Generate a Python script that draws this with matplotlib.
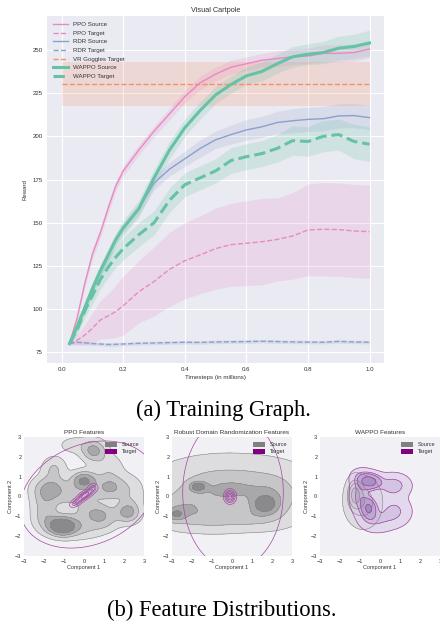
import numpy as np
import matplotlib
matplotlib.use("Agg")
import matplotlib.pyplot as plt
from matplotlib.patches import Patch

# ---------------- data: training curves ----------------
timesteps = [0.025, 0.05, 0.075, 0.1, 0.125, 0.15, 0.175, 0.2, 0.25, 0.3, 0.35, 0.4,
             0.45, 0.5, 0.55, 0.6, 0.65, 0.7, 0.75, 0.8, 0.85, 0.9, 0.95, 1.0]
ppo_source_mean = [80, 95, 115, 132, 144, 158, 171, 180, 192, 203, 213, 223,
                   231, 236, 240, 242, 244, 245, 246, 246.5, 248, 248, 248.5, 250.5]
ppo_source_std = [1, 2, 2.5, 3, 3, 3, 3, 3, 3, 3, 3.5, 3.5,
                  4, 4, 4, 4, 4, 4.5, 4.5, 4.5, 5, 5, 5, 5]
ppo_target_mean = [80, 82, 85, 89, 93.7, 96, 98.5, 102, 110, 116, 123, 128,
                   131.4, 135, 137.3, 138.1, 139, 140.3, 142.3, 145.8, 146.2, 146, 145.2, 144.8]
ppo_target_std = [0.5, 3, 6, 9, 11, 13, 15, 17, 18, 20, 21.5, 22,
                  22.5, 23.5, 24, 24.5, 25, 24, 25, 26.5, 27, 27, 27, 27]
rdr_source_mean = [80, 90, 101, 112, 122, 131, 140, 147, 158, 173, 181, 187,
                   193, 198, 201, 203.7, 205.5, 208, 209, 209.8, 210.2, 211.8, 212, 210.8]
rdr_source_std = [1, 2, 2.5, 3, 3, 3, 3, 3, 3.5, 4, 4, 4.5,
                  5, 5, 5.5, 6, 6, 6.5, 7, 7, 7, 7, 7, 7]
rdr_target_mean = [80, 80.8, 80.5, 80, 79.8, 79.5, 79.6, 79.8, 80.2, 80.4, 80.6, 80.8,
                   80.7, 81, 81.1, 81.2, 81.4, 81.2, 81, 80.9, 80.8, 81.3, 81, 80.8]
rdr_target_std = [0.8, 1, 1, 1, 1, 1.1, 1.1, 1, 1, 1, 1, 1,
                  1, 1, 1, 1, 1, 1, 1, 1, 1, 1, 1, 1]
wappo_source_mean = [80, 90, 101, 112, 122, 131, 140, 147, 158, 176, 192, 205,
                     215, 224, 230, 235, 237.5, 242, 246, 247.5, 248.5, 251, 252, 254]
wappo_source_std = [1, 2.5, 3, 3.5, 4, 4, 4, 4.5, 5, 5, 5, 5,
                    5, 5, 5, 5, 5.5, 5.5, 6, 6, 6.5, 7, 7, 7.5]
wappo_target_mean = [80, 88, 99, 108, 117, 124, 130, 135, 143, 150, 163, 172,
                     176, 180, 186, 188.2, 190, 193, 197.5, 197, 200, 201, 197, 195.4]
wappo_target_std = [1, 3, 4, 5, 5.5, 6, 6, 6.5, 7, 7, 7, 7,
                    7, 7, 7.5, 7.5, 7.5, 8, 8.5, 8.5, 9, 9, 10, 10]
vr_x = [0.0, 1.0]
vr_mean = [230.5, 230.5]
vr_std = [12.7, 12.7]

# ---------------- data: feature distributions (Gaussian mixtures) ----
# columns: cx, cy, sx, sy, rho, weight
ppo_src_cx = [-1.1, -0.2, -1.9, 1.0, 0.0, -1.7, 1.3, 2.2, 2.3, 0.5, -0.3, -2.0, 1.2, -1.5, -0.4, 0.6]
ppo_src_cy = [-1.5, -1.5, -1.1, -1.2, 0.8, 0.4, 0.5, -0.8, 0.2, 2.3, 0.0, -0.3, 1.5, 1.4, 2.6, -0.8]
ppo_src_sx = [0.45, 0.8, 0.45, 0.5, 0.4, 0.55, 0.5, 0.4, 0.5, 0.4, 1.0, 0.4, 0.5, 0.4, 0.6, 0.6]
ppo_src_sy = [0.3, 0.4, 0.45, 0.35, 0.3, 0.4, 0.4, 0.35, 0.6, 0.35, 0.5, 0.5, 0.45, 0.4, 0.3, 0.3]
ppo_src_rho = [0, 0, 0, 0, 0, 0, 0, 0, 0, 0, 0, 0, 0, 0, 0, 0]
ppo_src_w = [0.10, 0.07, 0.04, 0.03, 0.06, 0.07, 0.06, 0.05, 0.04, 0.05, 0.10, 0.03, 0.03, 0.03, 0.02, 0.04]

ppo_tgt_cx = [-0.4, -0.05, 0.25, 0.45, 0.2]
ppo_tgt_cy = [-0.3, 0.0, 0.2, 0.45, 0.1]
ppo_tgt_sx = [0.18, 0.18, 0.18, 0.15, 1.95]
ppo_tgt_sy = [0.14, 0.15, 0.15, 0.13, 1.55]
ppo_tgt_rho = [0.5, 0.5, 0.5, 0.0, 0.25]
ppo_tgt_w = [0.19, 0.25, 0.2, 0.12, 0.24]

rdr_src_cx = [1.65, 2.0, -2.8, -2.4, -1.7, -1.0, 0.5, 0.9, 0.0, -1.0]
rdr_src_cy = [-0.4, 0.0, -0.9, -0.6, 0.5, 0.3, 0.4, -1.0, 0.25, -1.0]
rdr_src_sx = [0.4, 0.7, 0.3, 0.7, 0.25, 1.0, 1.0, 0.9, 3.0, 0.9]
rdr_src_sy = [0.3, 0.6, 0.2, 0.45, 0.15, 0.6, 0.55, 0.3, 1.2, 0.35]
rdr_src_rho = [0, 0, 0, 0, 0, 0, 0, 0, 0, 0]
rdr_src_w = [0.09, 0.10, 0.03, 0.08, 0.03, 0.12, 0.12, 0.05, 0.28, 0.06]

rdr_tgt_cx = [-0.1, 0.05]
rdr_tgt_cy = [0.0, 0.2]
rdr_tgt_sx = [0.17, 1.6]
rdr_tgt_sy = [0.2, 2.45]
rdr_tgt_rho = [0, 0]
rdr_tgt_w = [0.8, 0.2]

wappo_src_cx = [-1.25, -0.85]
wappo_src_cy = [0.1, -0.3]
wappo_src_sx = [0.2, 0.45]
wappo_src_sy = [0.4, 0.62]
wappo_src_rho = [0, 0]
wappo_src_w = [0.4, 0.6]

wappo_tgt_cx = [-0.5, -0.55, 0.65, 0.7, -1.0, -0.2, -0.9]
wappo_tgt_cy = [0.75, -0.6, 0.55, -0.75, 0.0, -1.25, 1.0]
wappo_tgt_sx = [0.35, 0.25, 0.5, 0.5, 0.3, 0.5, 0.35]
wappo_tgt_sy = [0.25, 0.35, 0.35, 0.45, 0.55, 0.35, 0.25]
wappo_tgt_rho = [0, 0, 0, 0, 0, 0, 0]
wappo_tgt_w = [0.2, 0.16, 0.17, 0.18, 0.14, 0.1, 0.05]

# ---------------- figure ----------------
W, H = 440, 625
fig = plt.figure(figsize=(W / 100, H / 100), dpi=100)
plt.rcParams['font.family'] = ['Liberation Sans', 'DejaVu Sans']

def px_axes(l, t, r, b):
    return fig.add_axes([l / W, 1 - b / H, (r - l) / W, (b - t) / H])

green, orange, blue, pink = '#66c2a5', '#fc8d62', '#8da0cb', '#e78ac3'
tick_c = '#333333'

ax = px_axes(47, 15.7, 384.3, 363)
ax.set_facecolor('#EAEAF2')
for s in ax.spines.values():
    s.set_visible(False)
ax.grid(True, color='white', lw=0.8)
ax.set_axisbelow(True)

t = np.array(timesteps)
series = [
    ('PPO Source', ppo_source_mean, ppo_source_std, pink, '-'),
    ('PPO Target', ppo_target_mean, ppo_target_std, pink, '--'),
    ('RDR Source', rdr_source_mean, rdr_source_std, blue, '-'),
    ('RDR Target', rdr_target_mean, rdr_target_std, blue, '--'),
]
handles = []
for name, m, s, c, ls in series:
    m = np.array(m); s = np.array(s)
    ax.fill_between(t, m - s, m + s, color=c, alpha=0.2, lw=0)
    h, = ax.plot(t, m, color=c, ls=ls, lw=1.0, label=name)
    handles.append(h)
vm = np.array(vr_mean); vs = np.array(vr_std)
ax.fill_between(vr_x, vm - vs, vm + vs, color=orange, alpha=0.2, lw=0)
h, = ax.plot(vr_x, vm, color=orange, ls='--', lw=1.0, label='VR Goggles Target')
handles.append(h)
for name, m, s, ls in [('WAPPO Source', wappo_source_mean, wappo_source_std, '-'),
                       ('WAPPO Target', wappo_target_mean, wappo_target_std, '--')]:
    m = np.array(m); s = np.array(s)
    ax.fill_between(t, m - s, m + s, color=green, alpha=0.2, lw=0)
    h, = ax.plot(t, m, color=green, ls=ls, lw=2.2, label=name)
    handles.append(h)

ax.set_xlim(-0.048, 1.048)
ax.set_ylim(68.8, 269.8)
ax.set_yticks([75, 100, 125, 150, 175, 200, 225, 250])
ax.set_xticks([0.0, 0.2, 0.4, 0.6, 0.8, 1.0])
ax.tick_params(length=0, labelsize=4.4, colors=tick_c, pad=3)
ax.set_title('Visual Cartpole', fontsize=5.3, color=tick_c, pad=3)
ax.set_xlabel('Timesteps (in millions)', fontsize=4.4, color=tick_c, labelpad=2)
ax.set_ylabel('Reward', fontsize=4.4, color=tick_c, labelpad=4)
ax.legend(handles=handles, loc='upper left', fontsize=4.4, frameon=False,
          handlelength=2.5, labelspacing=0.55, borderaxespad=0.6, labelcolor=tick_c)

fig.text(223 / W, 1 - 410 / H, '(a) Training Graph.', ha='center', va='center',
         family='Liberation Serif', fontsize=16.3)
fig.text(222 / W, 1 - 610 / H, '(b) Feature Distributions.', ha='center', va='center',
         family='Liberation Serif', fontsize=16.3)

# ---------------- KDE panels ----------------
g = np.linspace(-5, 5, 320)
X, Y = np.meshgrid(g, g)

def mixture(cx, cy, sx, sy, rho, w):
    Z = np.zeros_like(X)
    for a, b, p, q, r, ww in zip(cx, cy, sx, sy, rho, w):
        dx = (X - a) / p
        dy = (Y - b) / q
        z = (dx ** 2 - 2 * r * dx * dy + dy ** 2) / (1 - r ** 2)
        Z += ww * np.exp(-0.5 * z) / (2 * np.pi * p * q * np.sqrt(1 - r ** 2))
    return Z

def iso_levels(Z, props):
    z = np.sort(Z.ravel())
    c = np.cumsum(z)
    c /= c[-1]
    return [z[np.searchsorted(c, pp)] for pp in props]

src_colors = ['#dddddf', '#c6c6c8', '#a8a8aa', '#8a8a8d', '#717174']
tgt_fill = ['#ddd3ea', '#c9b6de', '#b197cc', '#9a78bd']
purple_line = '#a346a3'

panels = [
    ('PPO Features', 24,
     (ppo_src_cx, ppo_src_cy, ppo_src_sx, ppo_src_sy, ppo_src_rho, ppo_src_w),
     [0.05, 0.25, 0.68, 0.9],
     (ppo_tgt_cx, ppo_tgt_cy, ppo_tgt_sx, ppo_tgt_sy, ppo_tgt_rho, ppo_tgt_w),
     [0.05, 0.3, 0.45, 0.6, 0.75, 0.9], False),
    ('Robust Domain Randomization Features', 172,
     (rdr_src_cx, rdr_src_cy, rdr_src_sx, rdr_src_sy, rdr_src_rho, rdr_src_w),
     [0.05, 0.2, 0.62, 0.88],
     (rdr_tgt_cx, rdr_tgt_cy, rdr_tgt_sx, rdr_tgt_sy, rdr_tgt_rho, rdr_tgt_w),
     [0.05, 0.3, 0.45, 0.6, 0.75, 0.9], False),
    ('WAPPO Features', 320,
     (wappo_src_cx, wappo_src_cy, wappo_src_sx, wappo_src_sy, wappo_src_rho, wappo_src_w),
     [0.05, 0.3, 0.55, 0.8],
     (wappo_tgt_cx, wappo_tgt_cy, wappo_tgt_sx, wappo_tgt_sy, wappo_tgt_rho, wappo_tgt_w),
     [0.05, 0.35, 0.65, 0.88], True),
]
for title, left, src, sprops, tgt, tprops, tfill in panels:
    a = px_axes(left, 437, left + 120, 556)
    a.set_facecolor('#F1F1F5')
    for s in a.spines.values():
        s.set_visible(False)
    Zs = mixture(*src)
    ls_ = iso_levels(Zs, sprops)
    a.contourf(X, Y, Zs, levels=ls_ + [Zs.max() * 1.01], colors=src_colors[:len(ls_)])
    a.contour(X, Y, Zs, levels=ls_, colors='#858588', linewidths=0.4)
    Zt = mixture(*tgt)
    lt = iso_levels(Zt, tprops)
    if tfill:
        a.contourf(X, Y, Zt, levels=lt + [Zt.max() * 1.01], colors=tgt_fill[:len(lt)], alpha=0.75)
    a.contour(X, Y, Zt, levels=lt, colors=purple_line, linewidths=0.5)
    a.set_xlim(-3, 3)
    a.set_ylim(-3, 3)
    a.set_xticks(range(-3, 4))
    a.set_yticks(range(-3, 4))
    a.tick_params(length=0, labelsize=4, colors=tick_c, pad=2)
    a.set_title(title, fontsize=4.6, color=tick_c, pad=2)
    a.set_xlabel('Component 1', fontsize=4, color=tick_c, labelpad=1)
    a.set_ylabel('Component 2', fontsize=4, color=tick_c, labelpad=1)
    a.legend(handles=[Patch(facecolor='grey', label='Source'),
                      Patch(facecolor='purple', label='Target')],
             loc='upper right', fontsize=4, frameon=False, handlelength=2.2,
             handleheight=0.9, labelspacing=0.3, labelcolor=tick_c)

fig.savefig('out.png', dpi=100)
